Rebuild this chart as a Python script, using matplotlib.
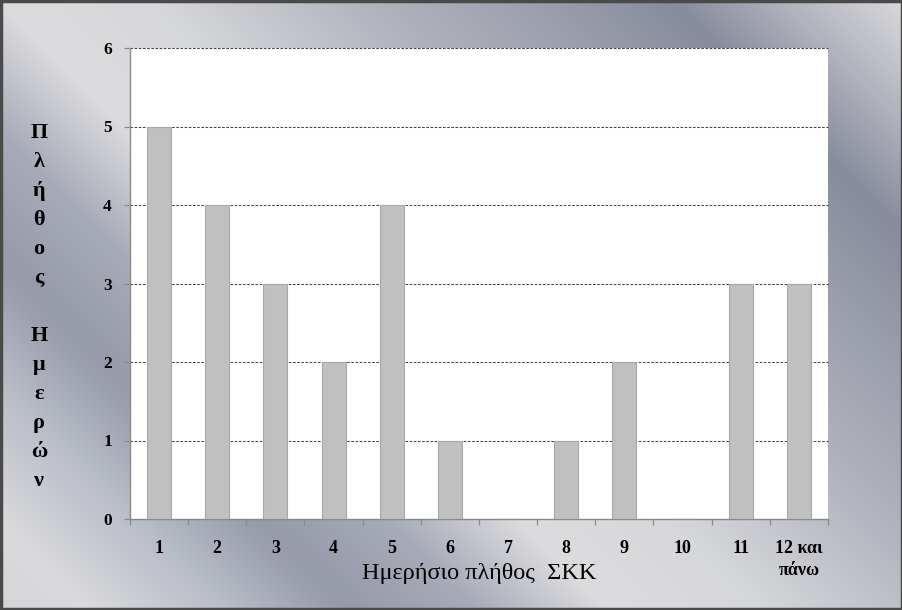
import numpy as np
import matplotlib
matplotlib.use("Agg")
import matplotlib.pyplot as plt
from matplotlib.patches import Rectangle

# ---- data ----
categories = ["1", "2", "3", "4", "5", "6", "7", "8", "9", "10", "11", "12 και\nπάνω"]
values = [5, 4, 3, 2, 4, 1, 0, 1, 2, 0, 3, 3]
y_ticks = [0, 1, 2, 3, 4, 5, 6]
x_label = "Ημερήσιο πλήθος  ΣΚΚ"
y_label = "Πλήθος Ημερών"

W, H = 903, 610
fig = plt.figure(figsize=(W / 100, H / 100), dpi=100)

# ---- metallic diagonal gradient background ----
bg = fig.add_axes([0, 0, 1, 1], zorder=-10)
xx, yy = np.meshgrid(np.arange(W), np.arange(H))
u = xx - yy
stops_u = [-610, -520, -380, -260, -130, 0, 150, 370, 520, 670, 780, 903]
stops_c = ["#d6d6d8", "#dadadc", "#b8bcc6", "#969aa9", "#a8acb8", "#dcdcde",
           "#d6d7da", "#b0b3bc", "#9da1ae", "#878c9d", "#b0b2bc", "#dadadc"]
rgb = np.array([matplotlib.colors.to_rgb(c) for c in stops_c])
img = np.stack([np.interp(u, stops_u, rgb[:, k]) for k in range(3)], axis=-1)
bg.imshow(img, aspect="auto", extent=[0, 1, 0, 1], origin="upper")
bg.set_xlim(0, 1)
bg.set_ylim(0, 1)
bg.axis("off")

# outer frame
fig.patches.append(Rectangle((0.0015, 0.002), 0.997, 0.996, transform=fig.transFigure,
                             fill=False, edgecolor="#4a4a4a", linewidth=2.5))

serif = ["Liberation Serif", "DejaVu Serif"]

# ---- main axes ----
ax = fig.add_axes([130 / W, 1 - 519 / H, (828 - 130) / W, (519 - 48) / H])
ax.set_facecolor("white")
x = np.arange(1, len(categories) + 1)
ax.bar(x, values, width=0.41, color="#c0c0c0", edgecolor="#a8a8a8", linewidth=0.8, zorder=3)

ax.set_xlim(0.5, len(categories) + 0.5)
ax.set_ylim(0, 6)
ax.set_yticks(y_ticks)
ax.set_yticklabels([str(t) for t in y_ticks], fontfamily=serif, fontweight="bold", fontsize=12.5)
ax.set_xticks(x)
ax.set_xticklabels(categories, fontfamily=serif, fontweight="bold", fontsize=13,
                   linespacing=1.4, va="top")
ax.tick_params(axis="x", which="major", length=0, pad=15)
ax.set_xticks(np.arange(0.5, len(categories) + 1, 1.0), minor=True)
ax.tick_params(axis="x", which="minor", length=4, width=0.9, color="#8a8a8a", direction="out")
ax.tick_params(axis="y", which="major", length=4, width=0.9, color="#8a8a8a", pad=9)

ax.yaxis.grid(True, color="#444444", linestyle=(0, (2.5, 1.5)), linewidth=0.75, zorder=0)
for gl in ax.get_ygridlines():
    gl.set_clip_on(False)
ax.set_axisbelow(True)

for s in ["top", "right"]:
    ax.spines[s].set_visible(False)
for s in ["left", "bottom"]:
    ax.spines[s].set_color("#8a8a8a")
    ax.spines[s].set_linewidth(1.0)

# x label
fig.text(479 / W, 1 - 573 / H, x_label, fontfamily=serif, fontsize=17.5,
         ha="center", va="center", color="black")

# y label: stacked letters
y0 = 133
step = 29
for i, ch in enumerate(y_label):
    if ch == " ":
        continue
    fig.text(39 / W, 1 - (y0 + i * step) / H, ch, fontfamily=serif, fontweight="bold",
             fontsize=16, ha="center", va="center", color="black")

fig.savefig("out.png", dpi=100)
